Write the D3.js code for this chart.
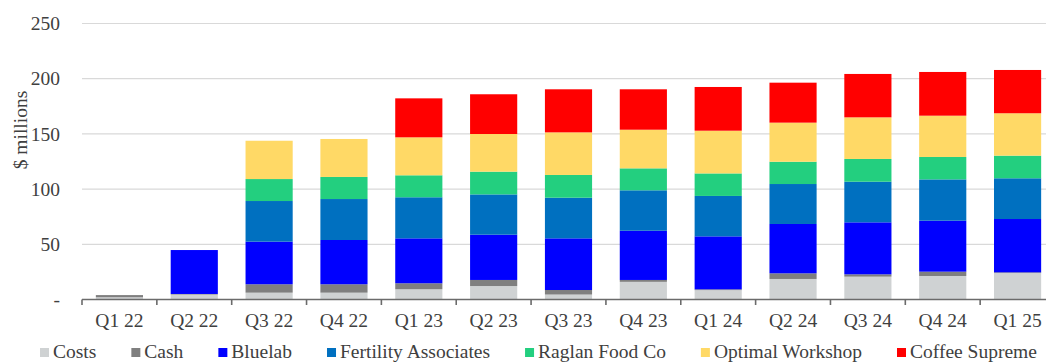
<!DOCTYPE html>
<html>
<head>
<meta charset="utf-8">
<script src="https://cdn.jsdelivr.net/npm/d3@7"></script>
<style>
  body { margin: 0; background: #fff; }
  text { font-family: "Liberation Serif", "Times New Roman", serif; fill: #404040; }
</style>
</head>
<body>
<div id="chart"></div>
<script>
// quarters and values ($ millions)
var quarters = ["Q1 22", "Q2 22", "Q3 22", "Q4 22", "Q1 23", "Q2 23", "Q3 23",
                "Q4 23", "Q1 24", "Q2 24", "Q3 24", "Q4 24", "Q1 25"];
var costs     = [2.0, 4.5, 6.2, 6.2, 9.3, 12.2, 4.5, 16.0, 8.5, 18.6, 20.7, 21.3, 24.0];
var cash      = [2.0, 0.5, 7.6, 7.6, 5.4, 5.5, 4.1, 1.7, 0.7, 5.1, 2.1, 3.9, 0.6];
var bluelab   = [0, 39.8, 38.6, 40.1, 40.7, 41.0, 46.8, 44.6, 48.0, 44.7, 47.1, 46.2, 48.3];
var fertility = [0, 0, 36.8, 37.1, 37.2, 36.5, 36.8, 36.6, 36.6, 36.2, 36.8, 37.4, 36.9];
var raglan    = [0, 0, 19.9, 20.0, 19.9, 20.6, 20.6, 19.9, 20.4, 20.2, 20.6, 20.3, 20.5];
var optimal   = [0, 0, 34.7, 34.4, 34.4, 34.1, 38.6, 35.0, 38.7, 35.4, 37.7, 37.4, 38.4];
var coffee    = [0, 0, 0, 0, 35.3, 36.0, 39.0, 36.6, 39.6, 36.2, 39.3, 39.6, 39.2];
var yTicks = [0, 50, 100, 150, 200, 250];

var seriesNames = ["Costs", "Cash", "Bluelab", "Fertility Associates", "Raglan Food Co",
                   "Optimal Workshop", "Coffee Supreme"];
var seriesValues = [costs, cash, bluelab, fertility, raglan, optimal, coffee];
var colors = ["#cfd2d3", "#7f7f7f", "#0000ff", "#0070c0", "#23cf7f", "#ffd966", "#ff0000"];

var width = 1046, height = 362;

var svg = d3.select("#chart").append("svg")
    .attr("width", width)
    .attr("height", height);

// build rows for d3.stack
var rows = quarters.map(function(q, i) {
    var r = {quarter: q};
    seriesNames.forEach(function(s, j) { r[s] = seriesValues[j][i]; });
    return r;
});
var stacked = d3.stack().keys(seriesNames)(rows);

// plot runs off the right edge like the original
var x = d3.scaleBand()
    .domain(quarters)
    .range([82, 1055])
    .paddingInner(0.37)
    .paddingOuter(0.185);
var y = d3.scaleLinear()
    .domain([0, 250])
    .range([299.5, 23.5]);

// gridlines
svg.append("g")
    .selectAll("line")
    .data(yTicks.filter(function(d) { return d > 0; }))
    .enter().append("line")
    .attr("x1", 82).attr("x2", width)
    .attr("y1", function(d) { return y(d); })
    .attr("y2", function(d) { return y(d); })
    .attr("stroke", "#d9d9d9")
    .attr("stroke-width", 1.2);

// y tick labels
svg.append("g")
    .selectAll("text")
    .data(yTicks)
    .enter().append("text")
    .attr("x", 60)
    .attr("y", function(d) { return y(d); })
    .attr("dy", "0.34em")
    .attr("text-anchor", "end")
    .style("font-size", "19.5px")
    .text(function(d) { return d === 0 ? "-" : d; });

// y axis title
svg.append("text")
    .attr("transform", "translate(27,130) rotate(-90)")
    .attr("text-anchor", "middle")
    .style("font-size", "19.5px")
    .text("$ millions");

// bars
svg.append("g")
    .selectAll("g")
    .data(stacked)
    .enter().append("g")
    .attr("fill", function(d, i) { return colors[i]; })
    .selectAll("rect")
    .data(function(d) { return d; })
    .enter().append("rect")
    .attr("x", function(d) { return x(d.data.quarter); })
    .attr("width", x.bandwidth())
    .attr("y", function(d) { return y(d[1]); })
    .attr("height", function(d) { return y(d[0]) - y(d[1]); });

// x axis: line with ticks between categories
var xAxis = d3.axisBottom(x).tickSize(0).tickPadding(14);
var xg = svg.append("g")
    .attr("transform", "translate(0," + y(0) + ")")
    .call(xAxis);
xg.select(".domain").remove();
xg.selectAll("text")
    .style("font-size", "19.5px")
    .attr("fill", null);

var step = x.step();
var bounds = d3.range(quarters.length + 1).map(function(i) { return 82 + i * step; });
xg.append("line")
    .attr("x1", 82).attr("x2", width)
    .attr("stroke", "#6b6b6b")
    .attr("stroke-width", 1.6);
xg.selectAll(".btick")
    .data(bounds)
    .enter().append("line")
    .attr("class", "btick")
    .attr("x1", function(d) { return d; })
    .attr("x2", function(d) { return d; })
    .attr("y1", 0).attr("y2", 5.5)
    .attr("stroke", "#6b6b6b")
    .attr("stroke-width", 1.6);

// legend
var legend = svg.append("g").attr("transform", "translate(40,0)");
var lx = 0;
seriesNames.forEach(function(name, i) {
    var g = legend.append("g").attr("transform", "translate(" + lx + ",0)");
    g.append("rect")
        .attr("x", 0).attr("y", 348)
        .attr("width", 9).attr("height", 9)
        .attr("fill", colors[i]);
    var t = g.append("text")
        .attr("x", 13).attr("y", 358)
        .style("font-size", "19.5px")
        .text(name);
    lx += 13 + t.node().getComputedTextLength() + 35;
});
</script>
</body>
</html>
